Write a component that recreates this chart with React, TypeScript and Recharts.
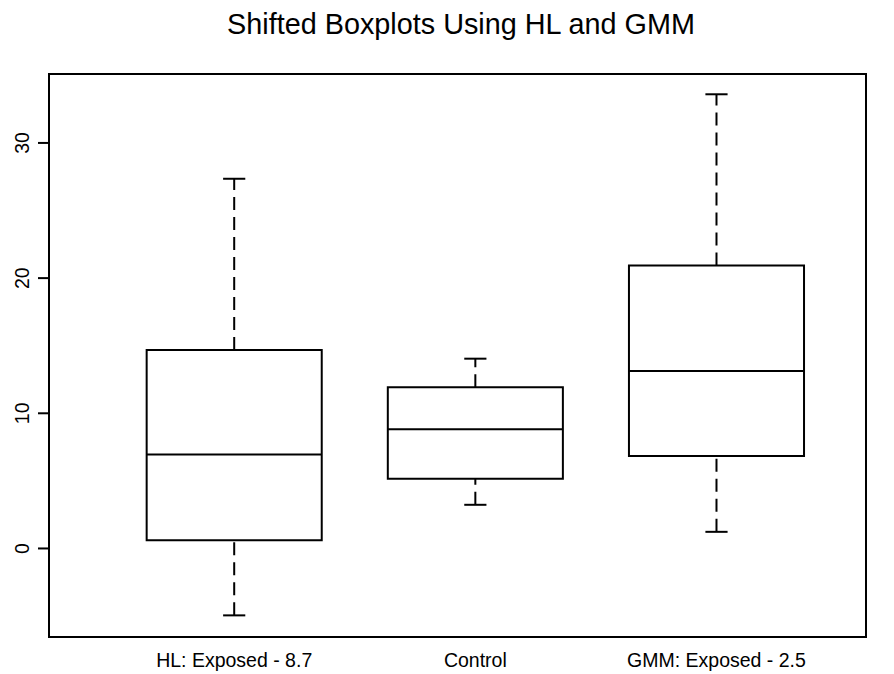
import { ComposedChart, XAxis, YAxis, Scatter, ReferenceArea, ReferenceLine } from 'recharts';

const groups = ['HL: Exposed - 8.7', 'Control', 'GMM: Exposed - 2.5'];
const positions = [1, 2, 3];
const whiskerLow = [-4.95, 3.23, 1.23];
const lowerQuartile = [0.6, 5.15, 6.84];
const medians = [6.95, 8.81, 13.13];
const upperQuartile = [14.69, 11.93, 20.93];
const whiskerHigh = [27.35, 14.04, 33.6];
const yTicks = [0, 10, 20, 30];

const X_DOMAIN: [number, number] = [0.232, 3.62];
const Y_DOMAIN: [number, number] = [-6.55, 35.1];
const BOX_HALF = 0.363;
const CAP_HALF = 0.046;
const FONT = '"Liberation Sans", Arial, Helvetica, sans-serif';

const data = positions.map((x, i) => ({ x, y: medians[i], name: groups[i] }));

const XTick = (props: any) => {
  const { x, y, payload } = props;
  return (
    <text x={x} y={y} dy={22} textAnchor="middle" fontSize={19.5} fontFamily={FONT} fill="#000">
      {groups[payload.value - 1]}
    </text>
  );
};

const YTick = (props: any) => {
  const { y, payload } = props;
  const tx = 29;
  return (
    <text
      x={tx}
      y={y}
      textAnchor="middle"
      fontSize={19.5}
      fontFamily={FONT}
      fill="#000"
      transform={`rotate(-90, ${tx}, ${y})`}
    >
      {payload.value}
    </text>
  );
};

export default function App() {
  return (
    <div style={{ position: 'absolute', left: 0, top: 0, width: 894, height: 674, background: '#fff' }}>
      <svg style={{ position: 'absolute', left: 0, top: 0 }} width={894} height={74}>
        <text x={461} y={33.5} textAnchor="middle" fontSize={28.8} fontFamily={FONT} fill="#000">
          Shifted Boxplots Using HL and GMM
        </text>
      </svg>
      <ComposedChart
        width={894}
        height={674}
        data={data}
        margin={{ top: 74, right: 28, bottom: 0, left: 0 }}
        style={{ position: 'absolute', left: 0, top: 0 }}
      >
        <XAxis
          type="number"
          dataKey="x"
          domain={X_DOMAIN}
          ticks={positions}
          allowDataOverflow
          axisLine={false}
          tickLine={false}
          height={37}
          tick={<XTick />}
        />
        <YAxis
          type="number"
          dataKey="y"
          domain={Y_DOMAIN}
          ticks={yTicks}
          allowDataOverflow
          axisLine={false}
          tickSize={11}
          tickLine={{ stroke: '#000', strokeWidth: 2 }}
          width={49}
          tick={<YTick />}
        />
        <ReferenceArea
          x1={X_DOMAIN[0]}
          x2={X_DOMAIN[1]}
          y1={Y_DOMAIN[0]}
          y2={Y_DOMAIN[1]}
          fill="none"
          stroke="#000"
          strokeWidth={2}
          ifOverflow="visible"
        />
        {positions.map((p, i) => (
          <ReferenceLine
            key={`wl-${i}`}
            segment={[{ x: p, y: whiskerLow[i] }, { x: p, y: lowerQuartile[i] }]}
            stroke="#000"
            strokeWidth={2}
            strokeDasharray="13 7"
            ifOverflow="visible"
          />
        ))}
        {positions.map((p, i) => (
          <ReferenceLine
            key={`wh-${i}`}
            segment={[{ x: p, y: upperQuartile[i] }, { x: p, y: whiskerHigh[i] }]}
            stroke="#000"
            strokeWidth={2}
            strokeDasharray="13 7"
            ifOverflow="visible"
          />
        ))}
        {positions.map((p, i) => (
          <ReferenceLine
            key={`cl-${i}`}
            segment={[{ x: p - CAP_HALF, y: whiskerLow[i] }, { x: p + CAP_HALF, y: whiskerLow[i] }]}
            stroke="#000"
            strokeWidth={2}
            ifOverflow="visible"
          />
        ))}
        {positions.map((p, i) => (
          <ReferenceLine
            key={`ch-${i}`}
            segment={[{ x: p - CAP_HALF, y: whiskerHigh[i] }, { x: p + CAP_HALF, y: whiskerHigh[i] }]}
            stroke="#000"
            strokeWidth={2}
            ifOverflow="visible"
          />
        ))}
        {positions.map((p, i) => (
          <ReferenceArea
            key={`box-${i}`}
            x1={p - BOX_HALF}
            x2={p + BOX_HALF}
            y1={lowerQuartile[i]}
            y2={upperQuartile[i]}
            fill="#fff"
            fillOpacity={1}
            stroke="#000"
            strokeWidth={2}
            ifOverflow="visible"
          />
        ))}
        {positions.map((p, i) => (
          <ReferenceLine
            key={`med-${i}`}
            segment={[{ x: p - BOX_HALF, y: medians[i] }, { x: p + BOX_HALF, y: medians[i] }]}
            stroke="#000"
            strokeWidth={2}
            ifOverflow="visible"
          />
        ))}
        <Scatter dataKey="y" isAnimationActive={false} shape={() => <g />} />
      </ComposedChart>
    </div>
  );
}
